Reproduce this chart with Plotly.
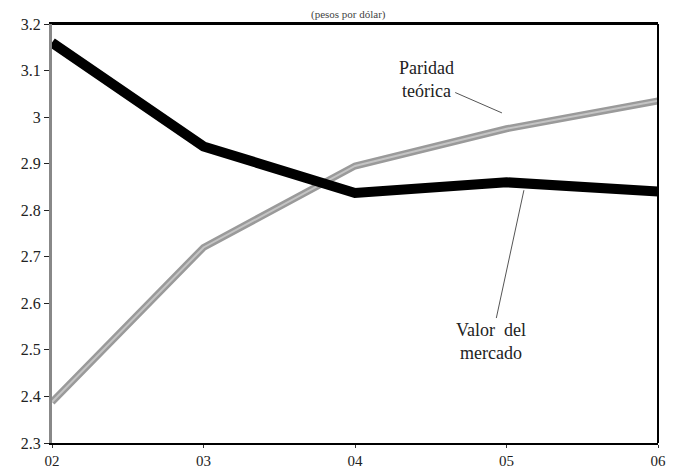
import plotly.graph_objects as go

years = [2, 3, 4, 5, 6]
year_labels = ["02", "03", "04", "05", "06"]
valor_mercado = [3.16, 2.937, 2.837, 2.86, 2.84]
paridad_teorica = [2.388, 2.72, 2.895, 2.975, 3.035]
y_ticks = [2.3, 2.4, 2.5, 2.6, 2.7, 2.8, 2.9, 3.0, 3.1, 3.2]
y_tick_labels = ["2.3", "2.4", "2.5", "2.6", "2.7", "2.8", "2.9", "3", "3.1", "3.2"]

fig = go.Figure()
fig.add_trace(go.Scatter(x=years, y=paridad_teorica, mode="lines",
                         line=dict(color="#9a9a9a", width=7), showlegend=False))
fig.add_trace(go.Scatter(x=years, y=paridad_teorica, mode="lines",
                         line=dict(color="#c4c4c4", width=2), showlegend=False))
fig.add_trace(go.Scatter(x=years, y=valor_mercado, mode="lines",
                         line=dict(color="#000000", width=10), showlegend=False))

ytickfont = dict(family="Liberation Serif", size=16, color="#222")
xtickfont = dict(family="Liberation Serif", size=15, color="#222")

fig.update_layout(
    width=670, height=468,
    margin=dict(l=44, r=20, t=16, b=33),
    paper_bgcolor="white", plot_bgcolor="white",
    font=dict(family="Liberation Serif", size=16, color="#222"),
    xaxis=dict(range=[2, 6], tickvals=years, ticktext=year_labels, tickfont=xtickfont,
               showgrid=False, zeroline=False, showline=True, linecolor="black",
               linewidth=2, mirror=True, ticks="outside", ticklen=3, automargin=False,
               tickcolor="#333", fixedrange=True),
    yaxis=dict(range=[2.3, 3.2], tickvals=y_ticks, ticktext=y_tick_labels, tickfont=ytickfont,
               showgrid=False, zeroline=False, showline=True, linecolor="#888",
               linewidth=3, mirror=False, ticks="outside", ticklen=5, automargin=False,
               tickcolor="#222", fixedrange=True),
    shapes=[dict(type="line", xref="paper", yref="paper", x0=1, x1=1, y0=0, y1=1,
                 line=dict(color="black", width=2)),
            dict(type="line", xref="paper", yref="paper", x0=0, x1=1, y0=1, y1=1,
                 line=dict(color="black", width=2))],
    annotations=[
        dict(text="(pesos por dólar)", xref="paper", yref="paper", x=0.49, y=1.0,
             yanchor="bottom", yshift=1, showarrow=False,
             font=dict(family="Liberation Serif", size=11, color="#444")),
        dict(text="Paridad<br>teórica", x=4.97, y=3.009, showarrow=True,
             ax=4.47, ay=3.08, axref="x", ayref="y", arrowhead=0, arrowwidth=1,
             arrowcolor="#555",
             font=dict(family="Liberation Serif", size=18, color="#222")),
        dict(text="Valor  del<br>mercado", x=5.115, y=2.843, showarrow=True,
             ax=4.90, ay=2.519, axref="x", ayref="y", arrowhead=0, arrowwidth=1,
             arrowcolor="#555",
             font=dict(family="Liberation Serif", size=18, color="#222")),
    ],
)

fig.write_html("out.html")
